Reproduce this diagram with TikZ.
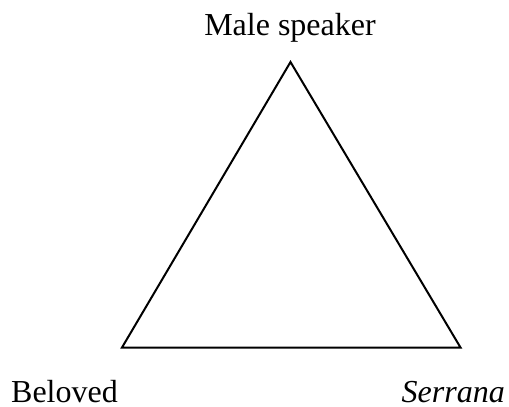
\documentclass[tikz,border=0pt]{standalone}
\usepackage{fontspec}
\setmainfont{Liberation Serif}
\begin{document}
\begin{tikzpicture}[x=1pt,y=-1pt,
  lbl/.style={inner sep=0pt,font=\fontsize{32}{38}\selectfont},
  edge/.style={draw=black,line width=2pt,line join=miter}]
\useasboundingbox (0,0) rectangle (509,407);
\coordinate (top) at (290.5,62);
\coordinate (bl) at (122,347.5);
\coordinate (br) at (460.5,347.5);
\draw[edge] (top) -- (bl) -- (br) -- cycle;
\node[lbl,anchor=base] (male) at (290,35.5) {Male speaker};
\node[lbl,anchor=base east] (beloved) at (118,402) {Beloved};
\node[lbl,anchor=base east] (serrana) at (505,402) {\itshape Serrana};
\end{tikzpicture}
\end{document}
